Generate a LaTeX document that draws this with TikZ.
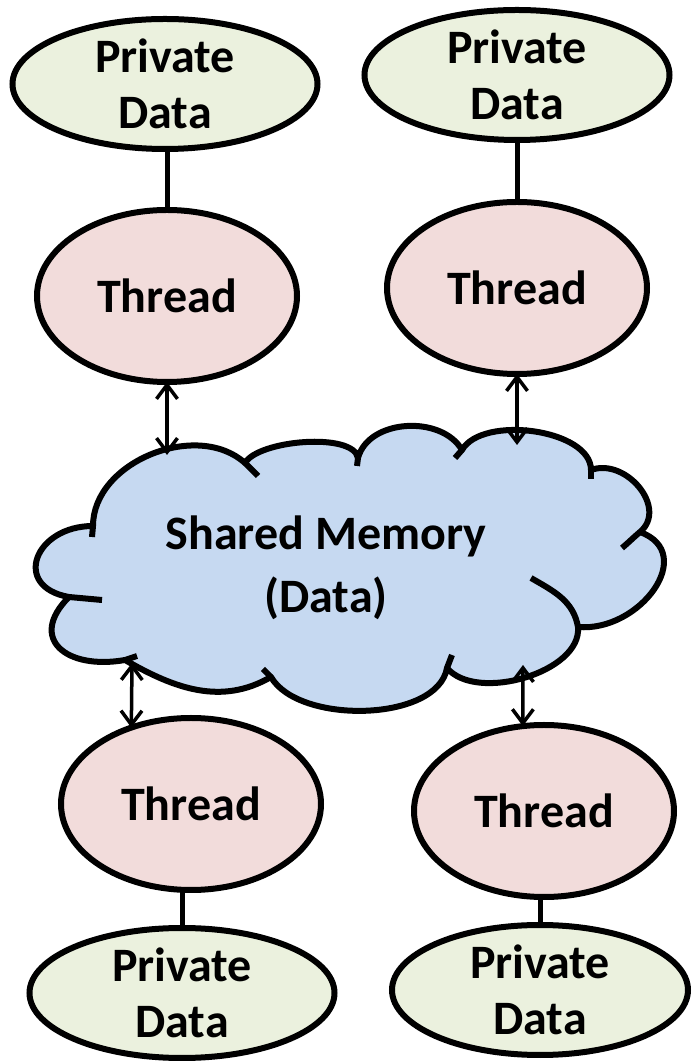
\documentclass[tikz,border=0pt]{standalone}
\usepackage{fontspec}
\setmainfont{Carlito}
\usetikzlibrary{shapes.geometric,arrows.meta}
\definecolor{pdColor}{RGB}{235,241,222}
\definecolor{thColor}{RGB}{242,220,219}
\definecolor{memColor}{RGB}{198,217,241}
\begin{document}
\begin{tikzpicture}[x=1pt,y=1pt,
  pdata/.style={ellipse,draw,line width=6pt,fill=pdColor,minimum width=305pt,minimum height=130pt,
    inner sep=0pt,outer sep=0pt,align=center,font=\bfseries\fontsize{48}{56}\selectfont},
  thread/.style={pdata,fill=thColor,minimum width=260pt,minimum height=172pt},
  tie/.style={line width=5pt},
  link/.style={line width=3.5pt,>={Straight Barb[length=14pt,width=21pt]},<->},
  puff/.style={line width=6pt}]
\path[use as bounding box] (0,0) rectangle (693,1061);

% shared memory cloud
\path[fill=memColor,draw,line width=6pt,line join=round]
  (93,535) to[out=90,in=138] (245,598)
  to[out=60,in=100,looseness=0.6] (358,603)
  to[out=75,in=120] (462,611)
  to[out=60,in=90,looseness=0.8] (591,591)
  to[out=20,in=40,looseness=1.2] (640,529)
  to[out=-20,in=-5,looseness=1.4] (578,434)
  to[out=-85,in=-50,looseness=0.85] (447,393)
  to[out=-100,in=-60,looseness=0.8] (271,384)
  to[out=-150,in=-30] (125,401)
  to[out=190,in=225,looseness=1.8] (69,464)
  to[out=170,in=180,looseness=2] (93,535) -- cycle;
\draw[puff] (245,598) to[out=-42,in=135] (258,585);
\draw[puff] (358,603) -- (357,595);
\draw[puff] (462,611) -- (455,603);
\draw[puff] (591,591) -- (591,582);
\draw[puff] (640,529) to[out=-140,in=40] (622,513);
\draw[puff] (531,483) to[out=-30,in=100] (578,434);
\draw[puff] (447,393) -- (452,406);
\draw[puff] (271,384) -- (263,392);
\draw[puff] (125,401) -- (137,405);
\draw[puff] (69,464) -- (102,461);
\draw[puff] (93,535) -- (92,524);
\node[font=\bfseries\fontsize{48}{63}\selectfont,align=center] (mem) at (326,493) {Shared Memory\\(Data)};

% threads and their private data
\node[pdata] (pdTL) at (165,977) {Private\\Data};
\node[pdata] (pdTR) at (517,986) {Private\\Data};
\node[thread] (thTL) at (167,765) {Thread};
\node[thread] (thTR) at (517,773) {Thread};
\node[thread] (thBL) at (191,257) {Thread};
\node[thread] (thBR) at (544,250) {Thread};
\node[pdata] (pdBL) at (182,68) {Private\\Data};
\node[pdata,minimum width=296pt] (pdBR) at (540,71) {Private\\Data};

\draw[tie] (thTL.north) -- (thTL.north |- pdTL.south);
\draw[tie] (thTR.north) -- (thTR.north |- pdTR.south);
\draw[tie] (pdBL.north) -- (pdBL.north |- thBL.south);
\draw[tie] (pdBR.north) -- (pdBR.north |- thBR.south);

\coordinate (mTL) at (167,606);
\coordinate (mTR) at (517,616);
\coordinate (mBL) at (132,398);
\coordinate (mBR) at (523,396);
\draw[link] (thTL.south) -- (mTL);
\draw[link] (thTR.south) -- (mTR);
\draw[link] (mBL) -- (thBL.128);
\draw[link] (mBR) -- (thBR.104);
\end{tikzpicture}
\end{document}
